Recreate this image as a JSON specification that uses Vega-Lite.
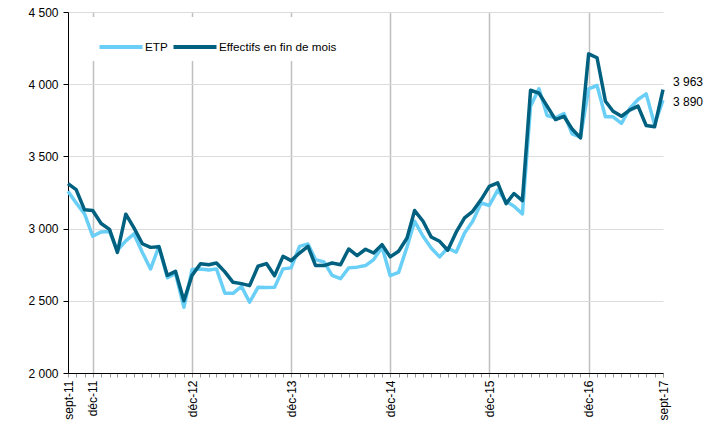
{
  "$schema": "https://vega.github.io/schema/vega-lite/v6.json",
  "width": 595,
  "height": 361,
  "autosize": {"type": "none"},
  "padding": {"left": 68, "top": 12, "right": 57, "bottom": 54},
  "config": {
    "locale": {"number": {"decimal": ",", "thousands": " ", "grouping": [3], "currency": ["", " €"]}},
    "view": {"stroke": null},
    "font": "Liberation Sans"
  },
  "data": {"values": [
    {"date": "2011-09-01", "ETP": 3258, "Effectifs": 3312},
    {"date": "2011-10-01", "ETP": 3178, "Effectifs": 3270},
    {"date": "2011-11-01", "ETP": 3102, "Effectifs": 3130},
    {"date": "2011-12-01", "ETP": 2947, "Effectifs": 3125},
    {"date": "2012-01-01", "ETP": 2977, "Effectifs": 3035},
    {"date": "2012-02-01", "ETP": 2980, "Effectifs": 2995},
    {"date": "2012-03-01", "ETP": 2850, "Effectifs": 2835},
    {"date": "2012-04-01", "ETP": 2915, "Effectifs": 3100},
    {"date": "2012-05-01", "ETP": 2963, "Effectifs": 3005},
    {"date": "2012-06-01", "ETP": 2835, "Effectifs": 2895},
    {"date": "2012-07-01", "ETP": 2720, "Effectifs": 2870},
    {"date": "2012-08-01", "ETP": 2877, "Effectifs": 2875},
    {"date": "2012-09-01", "ETP": 2660, "Effectifs": 2676},
    {"date": "2012-10-01", "ETP": 2690, "Effectifs": 2704},
    {"date": "2012-11-01", "ETP": 2455, "Effectifs": 2500},
    {"date": "2012-12-01", "ETP": 2716, "Effectifs": 2676},
    {"date": "2013-01-01", "ETP": 2721, "Effectifs": 2757},
    {"date": "2013-02-01", "ETP": 2714, "Effectifs": 2750},
    {"date": "2013-03-01", "ETP": 2721, "Effectifs": 2762},
    {"date": "2013-04-01", "ETP": 2552, "Effectifs": 2700},
    {"date": "2013-05-01", "ETP": 2552, "Effectifs": 2628},
    {"date": "2013-06-01", "ETP": 2600, "Effectifs": 2619},
    {"date": "2013-07-01", "ETP": 2490, "Effectifs": 2605},
    {"date": "2013-08-01", "ETP": 2593, "Effectifs": 2739},
    {"date": "2013-09-01", "ETP": 2592, "Effectifs": 2758},
    {"date": "2013-10-01", "ETP": 2593, "Effectifs": 2674},
    {"date": "2013-11-01", "ETP": 2721, "Effectifs": 2808},
    {"date": "2013-12-01", "ETP": 2728, "Effectifs": 2778},
    {"date": "2014-01-01", "ETP": 2877, "Effectifs": 2831},
    {"date": "2014-02-01", "ETP": 2894, "Effectifs": 2877},
    {"date": "2014-03-01", "ETP": 2785, "Effectifs": 2744},
    {"date": "2014-04-01", "ETP": 2769, "Effectifs": 2744},
    {"date": "2014-05-01", "ETP": 2676, "Effectifs": 2762},
    {"date": "2014-06-01", "ETP": 2653, "Effectifs": 2750},
    {"date": "2014-07-01", "ETP": 2728, "Effectifs": 2859},
    {"date": "2014-08-01", "ETP": 2733, "Effectifs": 2813},
    {"date": "2014-09-01", "ETP": 2744, "Effectifs": 2857},
    {"date": "2014-10-01", "ETP": 2785, "Effectifs": 2831},
    {"date": "2014-11-01", "ETP": 2873, "Effectifs": 2889},
    {"date": "2014-12-01", "ETP": 2674, "Effectifs": 2804},
    {"date": "2015-01-01", "ETP": 2697, "Effectifs": 2843},
    {"date": "2015-02-01", "ETP": 2873, "Effectifs": 2935},
    {"date": "2015-03-01", "ETP": 3051, "Effectifs": 3125},
    {"date": "2015-04-01", "ETP": 2947, "Effectifs": 3051},
    {"date": "2015-05-01", "ETP": 2866, "Effectifs": 2942},
    {"date": "2015-06-01", "ETP": 2804, "Effectifs": 2912},
    {"date": "2015-07-01", "ETP": 2866, "Effectifs": 2850},
    {"date": "2015-08-01", "ETP": 2836, "Effectifs": 2975},
    {"date": "2015-09-01", "ETP": 2970, "Effectifs": 3074},
    {"date": "2015-10-01", "ETP": 3051, "Effectifs": 3120},
    {"date": "2015-11-01", "ETP": 3178, "Effectifs": 3201},
    {"date": "2015-12-01", "ETP": 3160, "Effectifs": 3293},
    {"date": "2016-01-01", "ETP": 3266, "Effectifs": 3317},
    {"date": "2016-02-01", "ETP": 3189, "Effectifs": 3173},
    {"date": "2016-03-01", "ETP": 3155, "Effectifs": 3243},
    {"date": "2016-04-01", "ETP": 3102, "Effectifs": 3194},
    {"date": "2016-05-01", "ETP": 3848, "Effectifs": 3958},
    {"date": "2016-06-01", "ETP": 3968, "Effectifs": 3938},
    {"date": "2016-07-01", "ETP": 3783, "Effectifs": 3848},
    {"date": "2016-08-01", "ETP": 3767, "Effectifs": 3755},
    {"date": "2016-09-01", "ETP": 3797, "Effectifs": 3778},
    {"date": "2016-10-01", "ETP": 3656, "Effectifs": 3690},
    {"date": "2016-11-01", "ETP": 3633, "Effectifs": 3628},
    {"date": "2016-12-01", "ETP": 3968, "Effectifs": 4210},
    {"date": "2017-01-01", "ETP": 3991, "Effectifs": 4183},
    {"date": "2017-02-01", "ETP": 3774, "Effectifs": 3882},
    {"date": "2017-03-01", "ETP": 3774, "Effectifs": 3813},
    {"date": "2017-04-01", "ETP": 3728, "Effectifs": 3778},
    {"date": "2017-05-01", "ETP": 3830, "Effectifs": 3820},
    {"date": "2017-06-01", "ETP": 3894, "Effectifs": 3848},
    {"date": "2017-07-01", "ETP": 3933, "Effectifs": 3714},
    {"date": "2017-08-01", "ETP": 3721, "Effectifs": 3705},
    {"date": "2017-09-01", "ETP": 3890, "Effectifs": 3963}
  ]},
  "transform": [{"fold": ["ETP", "Effectifs"], "as": ["series", "value"]}],
  "encoding": {
    "x": {
      "field": "date",
      "type": "temporal",
      "scale": {
        "type": "utc",
        "nice": false,
        "domain": [
          {"year": 2011, "month": 9, "date": 1, "utc": true},
          {"year": 2017, "month": 9, "date": 1, "utc": true}
        ]
      },
      "axis": {
        "title": null,
        "tickCount": {"interval": "month", "step": 1},
        "labelExpr": "utcmonth(datum.value) == 11 ? 'déc-' + utcFormat(datum.value, '%y') : (utcmonth(datum.value) == 8 && (utcyear(datum.value) == 2011 || utcyear(datum.value) == 2017) ? 'sept-' + utcFormat(datum.value, '%y') : '')",
        "labelAngle": 270,
        "labelFontSize": 12,
        "labelColor": "black",
        "labelOverlap": false,
        "labelBound": false,
        "labelFlush": false,
        "labelPadding": 3,
        "domainColor": "black",
        "domainWidth": 1,
        "tickColor": "#999999",
        "tickSize": 4,
        "grid": true,
        "gridColor": "#bfbfbf",
        "gridWidth": 1.5,
        "gridOpacity": {"condition": {"test": "utcmonth(datum.value) == 11", "value": 1}, "value": 0}
      }
    },
    "y": {
      "field": "value",
      "type": "quantitative",
      "scale": {"domain": [2000, 4500], "nice": false, "zero": false},
      "axis": {
        "title": null,
        "values": [2000, 2500, 3000, 3500, 4000, 4500],
        "format": ",d",
        "labelFontSize": 12,
        "labelColor": "black",
        "labelPadding": 5,
        "domainColor": "black",
        "tickColor": "black",
        "tickSize": 5,
        "gridColor": "#dcdcdc",
        "gridWidth": 1
      }
    }
  },
  "layer": [
    {
      "mark": {"type": "line", "strokeWidth": 3.5, "strokeJoin": "round"},
      "encoding": {
        "color": {
          "field": "series",
          "type": "nominal",
          "scale": {"domain": ["ETP", "Effectifs"], "range": ["#6ACFF6", "#00607F"]},
          "legend": {
            "orient": "none",
            "legendX": 23,
            "legendY": 5,
            "direction": "horizontal",
            "title": null,
            "symbolType": "stroke",
            "symbolSize": 1850,
            "symbolStrokeWidth": 4,
            "labelFontSize": 11.7,
            "labelColor": "black",
            "labelOffset": 0,
            "columnPadding": -3,
            "padding": 6,
            "fillColor": "white",
            "labelExpr": "datum.label == 'Effectifs' ? 'Effectifs en fin de mois' : datum.label"
          }
        }
      }
    },
    {
      "transform": [{"filter": "datum.series == 'Effectifs' && utcyear(datum.date) == 2017 && utcmonth(datum.date) == 8"}],
      "mark": {"type": "text", "align": "left", "dx": 10, "dy": -8, "fontSize": 12, "color": "black"},
      "encoding": {"text": {"field": "value", "type": "quantitative", "format": ","}}
    },
    {
      "transform": [{"filter": "datum.series == 'ETP' && utcyear(datum.date) == 2017 && utcmonth(datum.date) == 8"}],
      "mark": {"type": "text", "align": "left", "dx": 10, "dy": 2, "fontSize": 12, "color": "black"},
      "encoding": {"text": {"field": "value", "type": "quantitative", "format": ","}}
    }
  ]
}
